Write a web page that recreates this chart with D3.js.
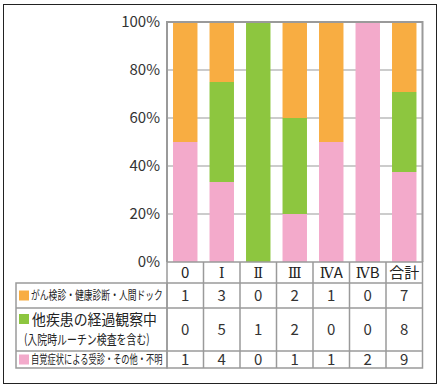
<!DOCTYPE html>
<html><head><meta charset="utf-8">
<script src="https://cdn.jsdelivr.net/npm/d3@7"></script>
<style>body{margin:0;background:#fff}svg{display:block}</style>
</head><body><div id="c"></div>
<script>
const categories = ["0","Ⅰ","Ⅱ","Ⅲ","ⅣA","ⅣB","合計"];
const seriesNames = ["がん検診・健康診断・人間ドック","他疾患の経過観察中","自覚症状による受診・その他・不明"];
const subNote = "(入院時ルーチン検査を含む)";
const screening = [1,3,0,2,1,0,7];
const otherDisease = [0,5,1,2,0,0,8];
const symptoms = [1,4,0,1,1,2,9];
const yTicks = [0,20,40,60,80,100];
const colors = {screening:"#F8AD42", other:"#8DC63F", symptoms:"#F3AACB"};
const grid = "#9a9a9a";
const font = "'Noto Sans CJK JP','DejaVu Sans',sans-serif";

const W=440,H=389;
const svg=d3.select("#c").append("svg").attr("width",W).attr("height",H);
svg.append("rect").attr("x",3.5).attr("y",4.5).attr("width",433).attr("height",379)
  .attr("fill","none").attr("stroke","#222").attr("stroke-width",1);

const x=d3.scaleBand().domain(categories).range([167,422.5]).paddingInner(0.33).paddingOuter(0.165);
const y=d3.scaleLinear().domain([0,100]).range([262,22]);

const rows=categories.map((c,i)=>{const t=screening[i]+otherDisease[i]+symptoms[i];
  return {cat:c,symptoms:symptoms[i]/t*100,other:otherDisease[i]/t*100,screening:screening[i]/t*100};});
const stack=d3.stack().keys(["symptoms","other","screening"])(rows);

svg.append("g").selectAll("line").data(yTicks.filter(t=>t>0&&t<100)).join("line")
  .attr("x1",167).attr("x2",422.5).attr("y1",d=>y(d)).attr("y2",d=>y(d))
  .attr("stroke",grid).attr("stroke-width",1.2);

svg.append("g").selectAll("g").data(stack).join("g").attr("fill",d=>colors[d.key])
  .selectAll("rect").data(d=>d).join("rect")
  .attr("x",d=>x(d.data.cat)).attr("width",x.bandwidth())
  .attr("y",d=>y(d[1])).attr("height",d=>y(d[0])-y(d[1]));

svg.append("path").attr("d",`M167,262V${y(100)}H422.5V262`).attr("fill","none")
  .attr("stroke",grid).attr("stroke-width",2);

const yAxis=d3.axisLeft(y).tickValues(yTicks).tickFormat(d=>d+"%").tickSize(0).tickPadding(7);
const ga=svg.append("g").attr("transform","translate(167,0)").call(yAxis);
ga.select(".domain").remove();
ga.selectAll("text").attr("font-family",font).attr("font-size",15).attr("fill","#333");

// table
const tTop=262, hdrB=283, r1B=308, r2B=351, r3B=368, leftX=16, dataL=167, dataR=422.5;
const tg=svg.append("g").attr("stroke",grid).attr("stroke-width",1.5).attr("fill","none");
tg.append("rect").attr("x",dataL).attr("y",tTop).attr("width",dataR-dataL).attr("height",r3B-tTop);
tg.append("rect").attr("x",leftX).attr("y",hdrB).attr("width",dataL-leftX).attr("height",r3B-hdrB);
[hdrB,r1B,r2B].forEach(yy=>tg.append("line").attr("x1",yy===hdrB?dataL:leftX).attr("x2",dataR).attr("y1",yy).attr("y2",yy));
categories.slice(1).forEach(c=>tg.append("line").attr("x1",x(c)-x.step()*0.165).attr("x2",x(c)-x.step()*0.165).attr("y1",tTop).attr("y2",r3B));

const cx=c=>x(c)+x.bandwidth()/2;
const hdr=svg.append("g").selectAll("text").data(categories).join("text")
  .attr("x",cx).attr("y",(tTop+hdrB)/2+5.5).attr("text-anchor","middle")
  .attr("font-family",font).attr("font-size",15).attr("fill","#222");
hdr.each(function(d){
  const t=d3.select(this);
  const m=d.match(/^([ⅠⅡⅢⅣ]+)(.*)$/);
  if(m){
    t.append("tspan").attr("font-family","'DejaVu Serif',serif").attr("font-size",14).text(m[1]);
    if(m[2]) t.append("tspan").text(m[2]);
  } else t.text(d);
});

const tableRows=[{vals:screening,y0:hdrB,y1:r1B},{vals:otherDisease,y0:r1B,y1:r2B},{vals:symptoms,y0:r2B,y1:r3B}];
tableRows.forEach(r=>{
  svg.append("g").selectAll("text").data(r.vals).join("text")
    .attr("x",(d,i)=>cx(categories[i])).attr("y",(r.y0+r.y1)/2+5.5).attr("text-anchor","middle")
    .attr("font-family",font).attr("font-size",15).attr("fill","#333").text(d=>d);
});

const lg=svg.append("g");
const sq=[[colors.screening,(hdrB+r1B)/2],[colors.other,319],[colors.symptoms,(r2B+r3B)/2]];
sq.forEach(s=>lg.append("rect").attr("x",19).attr("y",s[1]-5).attr("width",10).attr("height",10).attr("fill",s[0]));
function condensed(txt,x0,yb,size,targetW){
  const n=[...txt].length;
  const natural=n*size;
  const sx=Math.min(1,targetW/natural);
  lg.append("text").attr("transform",`translate(${x0},${yb}) scale(${sx},1)`)
    .attr("font-family",font).attr("font-size",size).attr("fill","#222").text(txt);
}
condensed(seriesNames[0],31,(hdrB+r1B)/2+4.5,12,132);
condensed(seriesNames[1],32,325,14.5,125);
condensed(subNote,24,344,13,139);
condensed(seriesNames[2],31,(r2B+r3B)/2+4.5,12,132);
</script></body></html>
